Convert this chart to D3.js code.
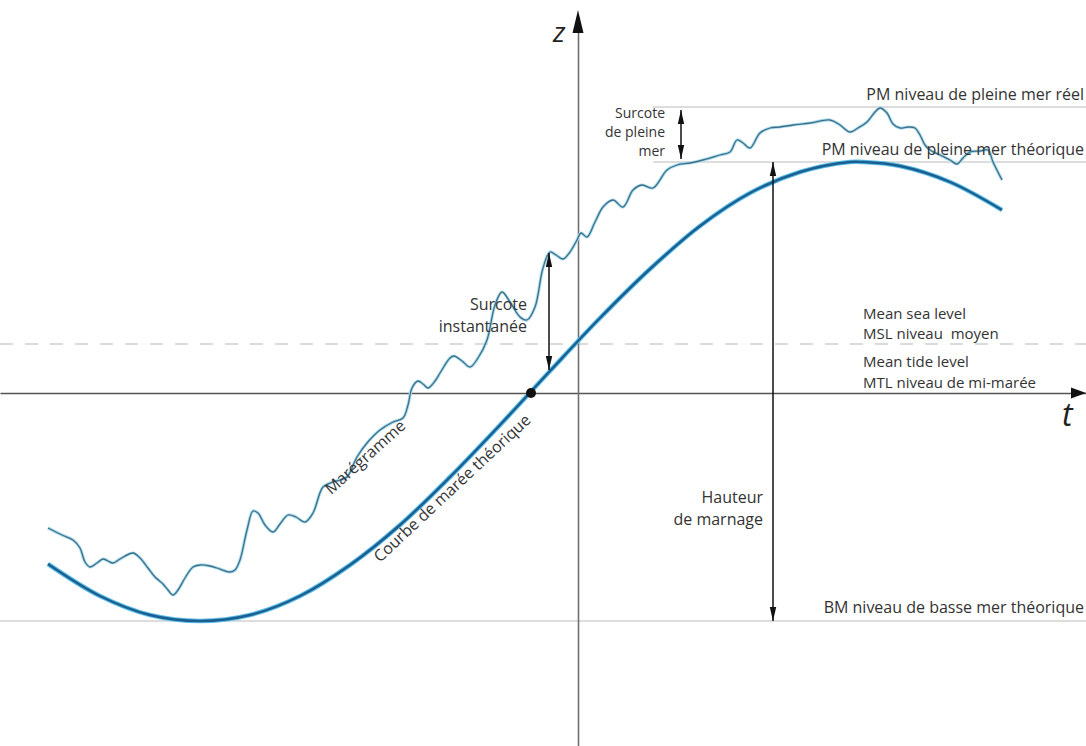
<!DOCTYPE html>
<html><head><meta charset="utf-8">
<script src="https://cdn.jsdelivr.net/npm/d3@7"></script>
<style>
body{margin:0;background:#fff}
svg{display:block}
text{font-family:"Open Sans",sans-serif;fill:#333}
</style>
</head><body>
<svg id="c" width="1086" height="746"></svg>
<script>
// Theoretical tide curve (t in hours, z in metres relative to MTL)
const tideT=[-5.30,-4.78,-4.28,-3.78,-3.28,-2.78,-2.28,-1.78,-1.28,-0.78,-0.28,0.22,0.72,1.22,1.72,2.22,2.72,2.84,3.22,3.72,4.24];
const tideZ=[-1.71,-2.03,-2.22,-2.28,-2.22,-2.03,-1.72,-1.32,-0.84,-0.32,0.22,0.75,1.24,1.67,2.00,2.21,2.31,2.31,2.27,2.11,1.83];
// Observed marégramme
const maregT=[-5.30,-5.16,-5.05,-4.98,-4.93,-4.88,-4.81,-4.75,-4.70,-4.65,-4.58,-4.45,-4.38,-4.30,-4.23,-4.15,-4.10,-4.05,-4.00,-3.93,-3.85,-3.78,-3.68,-3.61,-3.48,-3.43,-3.38,-3.31,-3.25,-3.20,-3.13,-3.05,-2.98,-2.90,-2.82,-2.73,-2.65,-2.55,-2.45,-2.38,-2.31,-2.21,-2.11,-1.98,-1.85,-1.75,-1.70,-1.66,-1.60,-1.55,-1.50,-1.43,-1.38,-1.28,-1.24,-1.16,-1.08,-1.00,-0.91,-0.83,-0.76,-0.68,-0.58,-0.51,-0.43,-0.35,-0.28,-0.22,-0.15,-0.08,-0.01,0.03,0.09,0.17,0.25,0.35,0.45,0.55,0.64,0.75,0.89,0.99,1.12,1.25,1.42,1.52,1.59,1.65,1.72,1.82,1.92,2.02,2.15,2.32,2.52,2.62,2.72,2.80,2.89,2.97,3.02,3.09,3.15,3.22,3.30,3.37,3.42,3.47,3.52,3.62,3.72,3.79,3.85,3.92,4.02,4.10,4.15,4.24];
const maregZ=[-1.35,-1.42,-1.47,-1.55,-1.69,-1.74,-1.70,-1.66,-1.68,-1.70,-1.66,-1.60,-1.65,-1.75,-1.84,-1.91,-1.97,-2.02,-1.97,-1.85,-1.74,-1.72,-1.73,-1.75,-1.79,-1.77,-1.67,-1.37,-1.18,-1.20,-1.32,-1.39,-1.31,-1.22,-1.24,-1.29,-1.20,-0.94,-0.89,-0.87,-0.84,-0.64,-0.50,-0.37,-0.29,-0.25,-0.12,0.05,0.12,0.09,0.05,0.12,0.20,0.35,0.37,0.32,0.26,0.35,0.53,0.88,1.01,0.91,0.76,0.73,0.86,1.25,1.41,1.38,1.34,1.41,1.53,1.60,1.56,1.71,1.86,1.93,1.86,2.03,2.08,2.05,2.23,2.28,2.30,2.33,2.38,2.41,2.53,2.50,2.45,2.60,2.65,2.66,2.68,2.70,2.73,2.68,2.61,2.65,2.71,2.81,2.85,2.80,2.69,2.65,2.66,2.65,2.58,2.48,2.43,2.38,2.33,2.29,2.35,2.41,2.42,2.43,2.31,2.13];
// Reference levels
const zPMreel=2.86, zPMtheo=2.31, zMSL=0.49, zMTL=0, zBM=-2.28;
const tMTLcross=-0.47;          // theoretical curve crosses MTL
const tSurcoteInst=-0.29, zSurcoteTop=1.40, zSurcoteBot=0.23;
const tSurcotePM=1.03, tMarnage=1.95;

const W=1086,H=746;
const x=d3.scaleLinear().domain([-5.78,5.08]).range([0,W]);
const y=d3.scaleLinear().domain([-3.53,3.93]).range([H,0]);
const svg=d3.select("#c");

const defs=svg.append("defs");
defs.append("marker").attr("id","ah").attr("viewBox","0 0 14 8").attr("refX",14).attr("refY",4)
  .attr("markerWidth",14).attr("markerHeight",8).attr("markerUnits","userSpaceOnUse")
  .attr("orient","auto-start-reverse")
  .append("path").attr("d","M0,0.8 L14,4 L0,7.2 Z").attr("fill","#111");

// level lines
const lvl=svg.append("g").attr("stroke","#d2d2d2").attr("stroke-width",1.5);
lvl.append("line").attr("x1",x(0.75)).attr("x2",W).attr("y1",y(zPMreel)).attr("y2",y(zPMreel));
lvl.append("line").attr("x1",x(0.75)).attr("x2",W).attr("y1",y(zPMtheo)).attr("y2",y(zPMtheo));
lvl.append("line").attr("x1",0).attr("x2",W).attr("y1",y(zBM)).attr("y2",y(zBM));
lvl.append("line").attr("x1",0).attr("x2",W).attr("y1",y(zMSL)).attr("y2",y(zMSL))
  .attr("stroke","#cfcfcf").attr("stroke-dasharray","13,12");

// axes
const xAx=svg.append("g").attr("transform",`translate(0,${y(zMTL)})`)
  .call(d3.axisBottom(x).tickValues([]).tickSizeOuter(0));
xAx.select(".domain").attr("stroke","#555").attr("stroke-width",1.6);
const yz=y.copy().domain([-3.53,3.70]).range([y(-3.53),y(3.70)]);
const yAx=svg.append("g").attr("transform",`translate(${x(0)},0)`)
  .call(d3.axisLeft(yz).tickValues([]).tickSizeOuter(0));
yAx.select(".domain").attr("stroke","#707070").attr("stroke-width",1.6);
// axis arrowheads
svg.append("path").attr("fill","#111")
  .attr("d",`M${W},${y(0)} L${W-15},${y(0)-5.5} L${W-15},${y(0)+5.5} Z`);
svg.append("path").attr("fill","#111")
  .attr("d",`M${x(0)},${y(3.83)} L${x(0)-5.5},${y(3.60)} L${x(0)+5.5},${y(3.60)} Z`);

// curves
const line=d3.line().x(d=>x(d[0])).y(d=>y(d[1])).curve(d3.curveCatmullRom.alpha(0.5));
const tide=tideT.map((t,i)=>[t,tideZ[i]]);
const mar=maregT.map((t,i)=>[t,maregZ[i]]);
svg.append("path").datum(mar).attr("d",line).attr("fill","none").attr("stroke","#a9dcf0").attr("stroke-width",3.2);
svg.append("path").datum(mar).attr("d",line).attr("fill","none").attr("stroke","#3f6f86").attr("stroke-width",1.3);
svg.append("path").datum(tide).attr("d",line).attr("fill","none").attr("stroke","#5bbde8").attr("stroke-width",4.6);
svg.append("path").datum(tide).attr("d",line).attr("fill","none").attr("stroke","#1a5f8f").attr("stroke-width",2.4);

// double arrows
function dArrow(t,z1,z2){
  svg.append("line").attr("x1",x(t)).attr("x2",x(t)).attr("y1",y(z1)).attr("y2",y(z2))
    .attr("stroke","#111").attr("stroke-width",1.5)
    .attr("marker-start","url(#ah)").attr("marker-end","url(#ah)");
}
dArrow(tSurcoteInst,zSurcoteTop,zSurcoteBot);
dArrow(tSurcotePM,zPMreel-0.03,zPMtheo+0.03);
dArrow(tMarnage,zPMtheo,zBM);

svg.append("circle").attr("cx",x(tMTLcross)).attr("cy",y(0)).attr("r",5).attr("fill","#111");

// texts
function txt(xp,yp,s,anchor,size,extra){
  const t=svg.append("text").attr("x",xp).attr("y",yp).attr("text-anchor",anchor||"start")
    .attr("font-size",size||16).style("white-space","pre").text(s);
  if(extra) extra(t);
  return t;
}
txt(553,42,"z","start",28,t=>t.attr("font-style","italic").style("fill","#222"));
txt(1062,426,"t","start",32,t=>t.attr("font-style","italic").style("fill","#222"));
txt(1084,100,"PM niveau de pleine mer réel","end");
txt(1084,155,"PM niveau de pleine mer théorique","end");
txt(1084,613,"BM niveau de basse mer théorique","end");
txt(863,318.5,"Mean sea level","start",15);
txt(863,339,"MSL niveau  moyen","start",15);
txt(863,367,"Mean tide level","start",15);
txt(863,387.5,"MTL niveau de mi-marée","start",15);
txt(665,117.5,"Surcote","end",14);
txt(665,136.7,"de pleine","end",14);
txt(665,155.9,"mer","end",14);
txt(527,310,"Surcote","end");
txt(527,332,"instantanée","end");
txt(763,503,"Hauteur","end");
txt(763,525,"de marnage","end");
txt(0,0,"Marégramme","middle",16,t=>t.attr("dominant-baseline","middle")
  .attr("transform","translate(366,458) rotate(-42)"));
txt(0,0,"Courbe de marée théorique","middle",16,t=>t.attr("dominant-baseline","middle")
  .attr("transform","translate(453,489) rotate(-43)"));
</script>
</body></html>
